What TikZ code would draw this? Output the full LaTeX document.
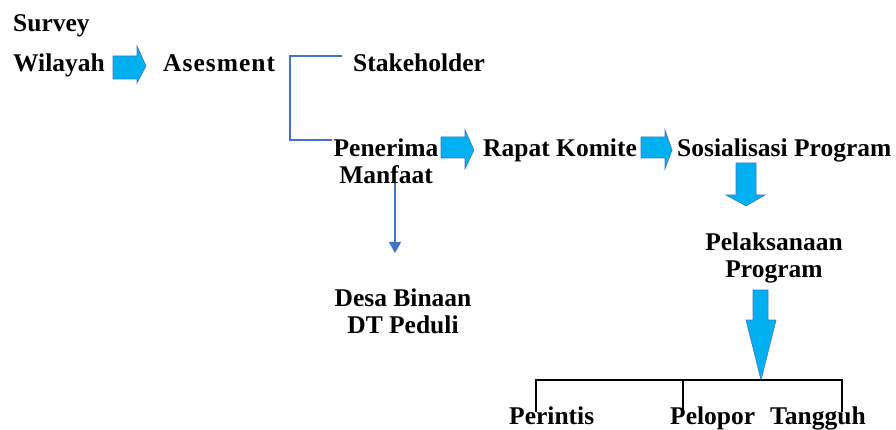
\documentclass[tikz,border=0pt]{standalone}
\usepackage{fontspec}
\setmainfont{Liberation Serif}
\usetikzlibrary{arrows.meta}
\definecolor{arrowfill}{RGB}{0,176,240}
\definecolor{arrowedge}{RGB}{60,120,200}
\definecolor{linkblue}{RGB}{68,114,196}
\begin{document}
\begin{tikzpicture}[x=1pt,y=-1pt,
  lbl/.style={font=\fontsize{25.5}{27}\selectfont\bfseries, inner sep=0pt, anchor=base west},
  lbltwo/.style={font=\fontsize{25.5}{27}\selectfont\bfseries, inner sep=0pt, align=center, anchor=base},
  blockarrow/.style={fill=arrowfill, draw=arrowedge, line width=0.6pt, line join=miter},
  link/.style={draw=linkblue, line width=1.2pt},
  tree/.style={draw=black, line width=1.3pt}]
\useasboundingbox (0,0) rectangle (896,430);
% texts (two-line nodes are placed by the baseline of their last line)
\node[lbl] (survey) at (13,32) {Survey};
\node[lbl] (wilayah) at (13,72) {Wilayah};
\node[lbl] (asesment) at (163,72) {\addfontfeatures{LetterSpace=4}Asesment};
\node[lbl] (stake) at (353,72) {Stakeholder};
\node[lbltwo] (pm) at (386,184) {Penerima\\Manfaat};
\node[lbl] (rapat) at (483,157) {Rapat Komite};
\node[lbl] (sosial) at (677,157) {Sosialisasi Program};
\node[lbltwo] (pelak) at (774,277) {Pelaksanaan\\Program};
\node[lbltwo] (desa) at (403,333) {Desa Binaan\\DT Peduli};
\node[lbl] (perintis) at (509,424) {Perintis};
\node[lbl] (pelopor) at (670,424) {Pelopor};
\node[lbl] (tangguh) at (770,424) {Tangguh};
% block arrows (right)
\path[blockarrow] (113,56) -- (137,56) -- (137,46) -- (146,66) -- (137,83) -- (137,79) -- (113,79) -- cycle;
\path[blockarrow] (441,137) -- (465,137) -- (465,130) -- (474,150) -- (465,169) -- (465,158) -- (441,158) -- cycle;
\path[blockarrow] (641,137) -- (665,137) -- (665,130) -- (672,150) -- (665,169) -- (665,158) -- (641,158) -- cycle;
% block arrows (down)
\path[blockarrow] (736,163) -- (756,163) -- (756,195) -- (765,195) -- (746,206) -- (726,195) -- (736,195) -- cycle;
\path[blockarrow] (753,290) -- (768,290) -- (768,320) -- (776,320) -- (761,380) -- (746,320) -- (753,320) -- cycle;
% bracket from Asesment
\coordinate (b1) at (342,56);
\coordinate (b2) at (290,56);
\coordinate (b3) at (332,140);
\draw[link] (b1) -- (b2) |- (b3);
% thin arrow to Desa Binaan
\coordinate (pmfoot) at (395,183);
\coordinate (desatop) at (395,253);
\draw[link, -{Triangle[length=11pt,width=12pt]}] (pmfoot) -- (desatop);
% tree
\coordinate (t1) at (536,412);
\coordinate (t2) at (536,380);
\coordinate (t3) at (842,380);
\coordinate (t4) at (842,412);
\coordinate (t5) at (683,380);
\coordinate (t6) at (683,412);
\draw[tree] (t1) -- (t2) -- (t3) -- (t4);
\draw[tree] (t5) -- (t6);
\end{tikzpicture}
\end{document}
